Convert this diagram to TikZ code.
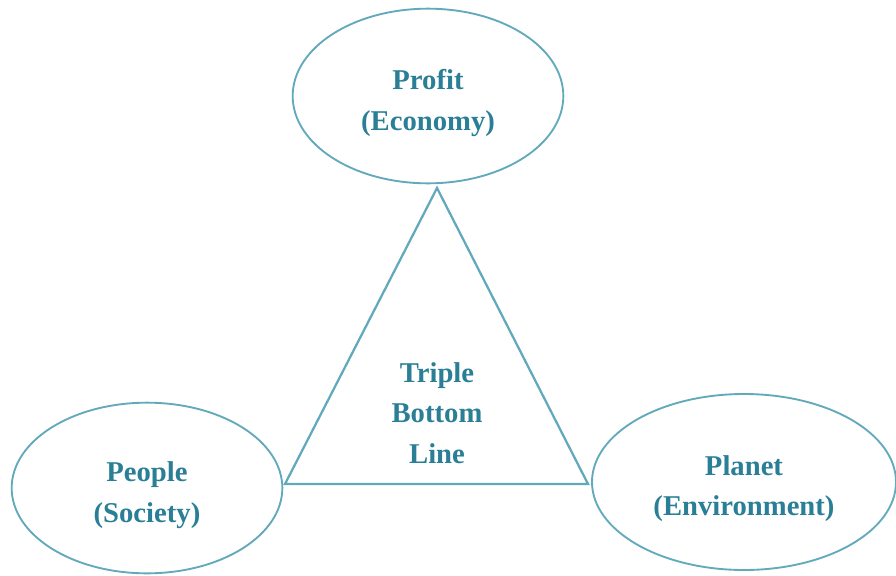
\documentclass[tikz,border=0pt]{standalone}
\usepackage{fontspec}
\setmainfont{Liberation Serif}
\usepackage{xcolor}
\usetikzlibrary{shapes, positioning}

\definecolor{tealtext}{HTML}{2A7F96}
\definecolor{tealline}{HTML}{62A9BC}

\tikzset{
    pillar/.style={ellipse, draw=tealline, line width=1.4pt, inner sep=0pt},
    core/.style={text=tealtext, align=center, font=\bfseries\fontsize{21.5}{30.5}\selectfont}
}

\begin{document}
\begin{tikzpicture}[x=0.75pt, y=-0.75pt]
        \useasboundingbox (0, 0) rectangle (896, 575);

        \node[pillar, minimum width=203pt, minimum height=131pt,
            label={[core, yshift=-5pt]center:Profit\\(Economy)}] (profit) at (428, 96) {};
        \node[pillar, minimum width=203pt, minimum height=128pt,
            label={[core, yshift=-5.5pt]center:People\\(Society)}] (people) at (147, 488) {};
        \node[pillar, minimum width=228pt, minimum height=132pt,
            label={[core, yshift=-5pt]center:Planet\\(Environment)}] (planet) at (744, 482) {};

        \coordinate (apex) at (437, 188);
        \coordinate (left) at (285, 484);
        \coordinate (right) at (588, 484);

        \draw[tealline, line width=1.7pt, line join=miter] (apex) -- (left) -- (right) -- cycle;

        \node[core] (tbl) at (437, 413) {Triple\\Bottom\\Line};
    \end{tikzpicture}
\end{document}
